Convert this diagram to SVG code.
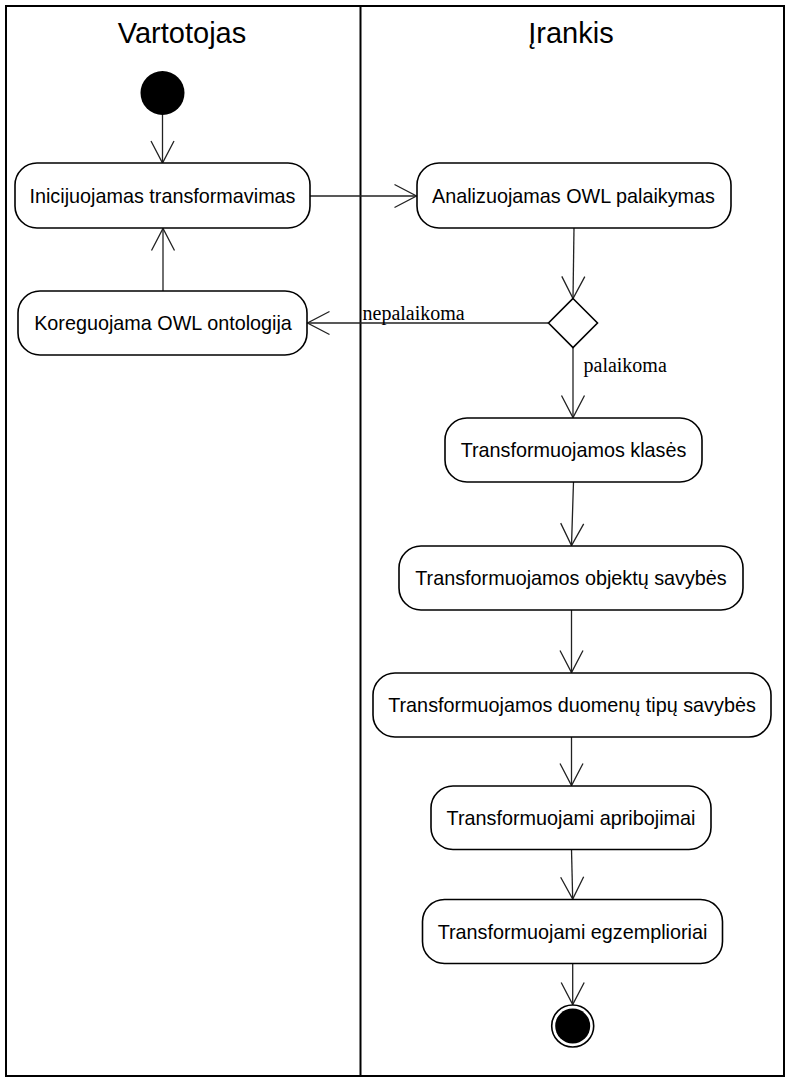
<svg xmlns="http://www.w3.org/2000/svg" width="787" height="1080" viewBox="0 0 787 1080">
  <style>
    .frame { fill: none; stroke: #000; stroke-width: 2; }
    .lane-title { font-family: "Liberation Sans", Arial, sans-serif; font-size: 29px; fill: #000; text-anchor: middle; }
    .action rect { fill: #fff; stroke: #000; stroke-width: 1.6; }
    .action text { font-family: "Liberation Sans", Arial, sans-serif; font-size: 19.8px; fill: #000; text-anchor: middle; }
    .flow { fill: none; stroke: #222; stroke-width: 1.3; marker-end: url(#open-arrow); }
    .guard { font-family: "Liberation Serif", "Times New Roman", serif; font-size: 20px; fill: #000; }
  </style>
  <defs>
    <marker id="open-arrow" markerUnits="userSpaceOnUse" markerWidth="30" markerHeight="30" viewBox="-25 -15 30 30" refX="0" refY="0" orient="auto">
      <path d="M -22 -11.5 L 0 0 L -22 11.5" fill="none" stroke="#222" stroke-width="1.3"/>
    </marker>
  </defs>

  <rect width="787" height="1080" fill="#fff"/>

  <!-- swimlanes -->
  <g id="lanes">
    <rect class="frame" x="6" y="6" width="778" height="1070"/>
    <line class="frame" x1="360.5" y1="6" x2="360.5" y2="1076"/>
    <text class="lane-title" x="182" y="43">Vartotojas</text>
    <text class="lane-title" x="571" y="43">Įrankis</text>
  </g>

  <!-- control flows -->
  <g id="connectors">
    <line class="flow" x1="162.5" y1="115" x2="162.5" y2="163"/>
    <line class="flow" x1="310" y1="196" x2="416.5" y2="196"/>
    <line class="flow" x1="163" y1="291" x2="163" y2="228.5"/>
    <line class="flow" x1="574" y1="228" x2="573" y2="298.5"/>
    <line class="flow" x1="548" y1="323" x2="307.5" y2="323"/>
    <text class="guard" x="362.5" y="320">nepalaikoma</text>
    <line class="flow" x1="573" y1="347.5" x2="573" y2="417.5"/>
    <text class="guard" x="583.5" y="371.5">palaikoma</text>
    <line class="flow" x1="573.5" y1="482" x2="571.5" y2="545.5"/>
    <line class="flow" x1="571.5" y1="610" x2="571.5" y2="672.5"/>
    <line class="flow" x1="571.5" y1="737" x2="571.5" y2="785.5"/>
    <line class="flow" x1="571.5" y1="849.5" x2="572.7" y2="899"/>
    <line class="flow" x1="572.7" y1="963.5" x2="572.7" y2="1004.5"/>
  </g>

  <!-- nodes -->
  <g id="initial">
    <circle cx="162.5" cy="93" r="22" fill="#000"/>
  </g>

  <g id="inicijuojamas" class="action">
    <rect x="15" y="163" width="295" height="65" rx="22"/>
    <text x="162.5" y="202.5">Inicijuojamas transformavimas</text>
  </g>

  <g id="koreguojama" class="action">
    <rect x="18" y="291" width="289" height="64" rx="22"/>
    <text x="163" y="330">Koreguojama OWL ontologija</text>
  </g>

  <g id="analizuojamas" class="action">
    <rect x="417" y="163" width="314" height="65" rx="22"/>
    <text x="573.5" y="202.5">Analizuojamas OWL palaikymas</text>
  </g>

  <g id="decision">
    <polygon points="573,298.5 597.5,323 573,347.5 548.5,323" fill="#fff" stroke="#000" stroke-width="1.6"/>
  </g>

  <g id="klases" class="action">
    <rect x="445" y="418" width="257" height="64" rx="22"/>
    <text x="573.5" y="457">Transformuojamos klasės</text>
  </g>

  <g id="objektu-savybes" class="action">
    <rect x="399" y="546" width="344" height="64" rx="22"/>
    <text x="571" y="585">Transformuojamos objektų savybės</text>
  </g>

  <g id="duomenu-savybes" class="action">
    <rect x="373" y="673" width="398" height="64" rx="22"/>
    <text x="572" y="712">Transformuojamos duomenų tipų savybės</text>
  </g>

  <g id="apribojimai" class="action">
    <rect x="431" y="786" width="280" height="63.5" rx="22"/>
    <text x="571" y="825">Transformuojami apribojimai</text>
  </g>

  <g id="egzemplioriai" class="action">
    <rect x="422.5" y="899.5" width="300" height="64" rx="22"/>
    <text x="572.5" y="938.5">Transformuojami egzemplioriai</text>
  </g>

  <g id="final">
    <circle cx="572.7" cy="1026" r="21" fill="#fff" stroke="#000" stroke-width="1.6"/>
    <circle cx="572.7" cy="1026" r="17.5" fill="#000"/>
  </g>
</svg>
